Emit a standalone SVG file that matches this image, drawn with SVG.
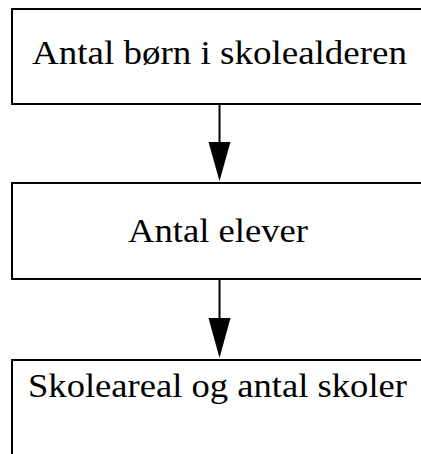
<svg xmlns="http://www.w3.org/2000/svg" width="421" height="454" viewBox="0 0 421 454">
<style>
.box{fill:#fff;stroke:#000;stroke-width:2}
.lbl{font-family:"Liberation Serif","Times New Roman",serif;font-size:34px;fill:#000}
.edge{stroke:#000;stroke-width:2;fill:none}
.head{fill:#000;stroke:none}
</style>
<rect width="421" height="454" fill="#fff"/>
<g id="node1">
<rect class="box" x="12" y="9" width="420" height="95"/>
<text class="lbl" x="32" y="64" textLength="375" lengthAdjust="spacingAndGlyphs">Antal børn i skolealderen</text>
</g>
<g id="node2">
<rect class="box" x="12" y="183" width="420" height="96"/>
<text class="lbl" x="128" y="242" textLength="180" lengthAdjust="spacingAndGlyphs">Antal elever</text>
</g>
<g id="node3">
<rect class="box" x="12" y="360" width="420" height="110"/>
<text class="lbl" x="28" y="397" textLength="379" lengthAdjust="spacingAndGlyphs">Skoleareal og antal skoler</text>
</g>
<g id="connectors">
<line class="edge" x1="219.5" y1="104" x2="219.5" y2="143"/>
<polygon class="head" points="208.5,142 230.5,142 219.5,181"/>
<line class="edge" x1="219.5" y1="279" x2="219.5" y2="319"/>
<polygon class="head" points="208.5,318 230.5,318 219.5,358"/>
</g>
</svg>
